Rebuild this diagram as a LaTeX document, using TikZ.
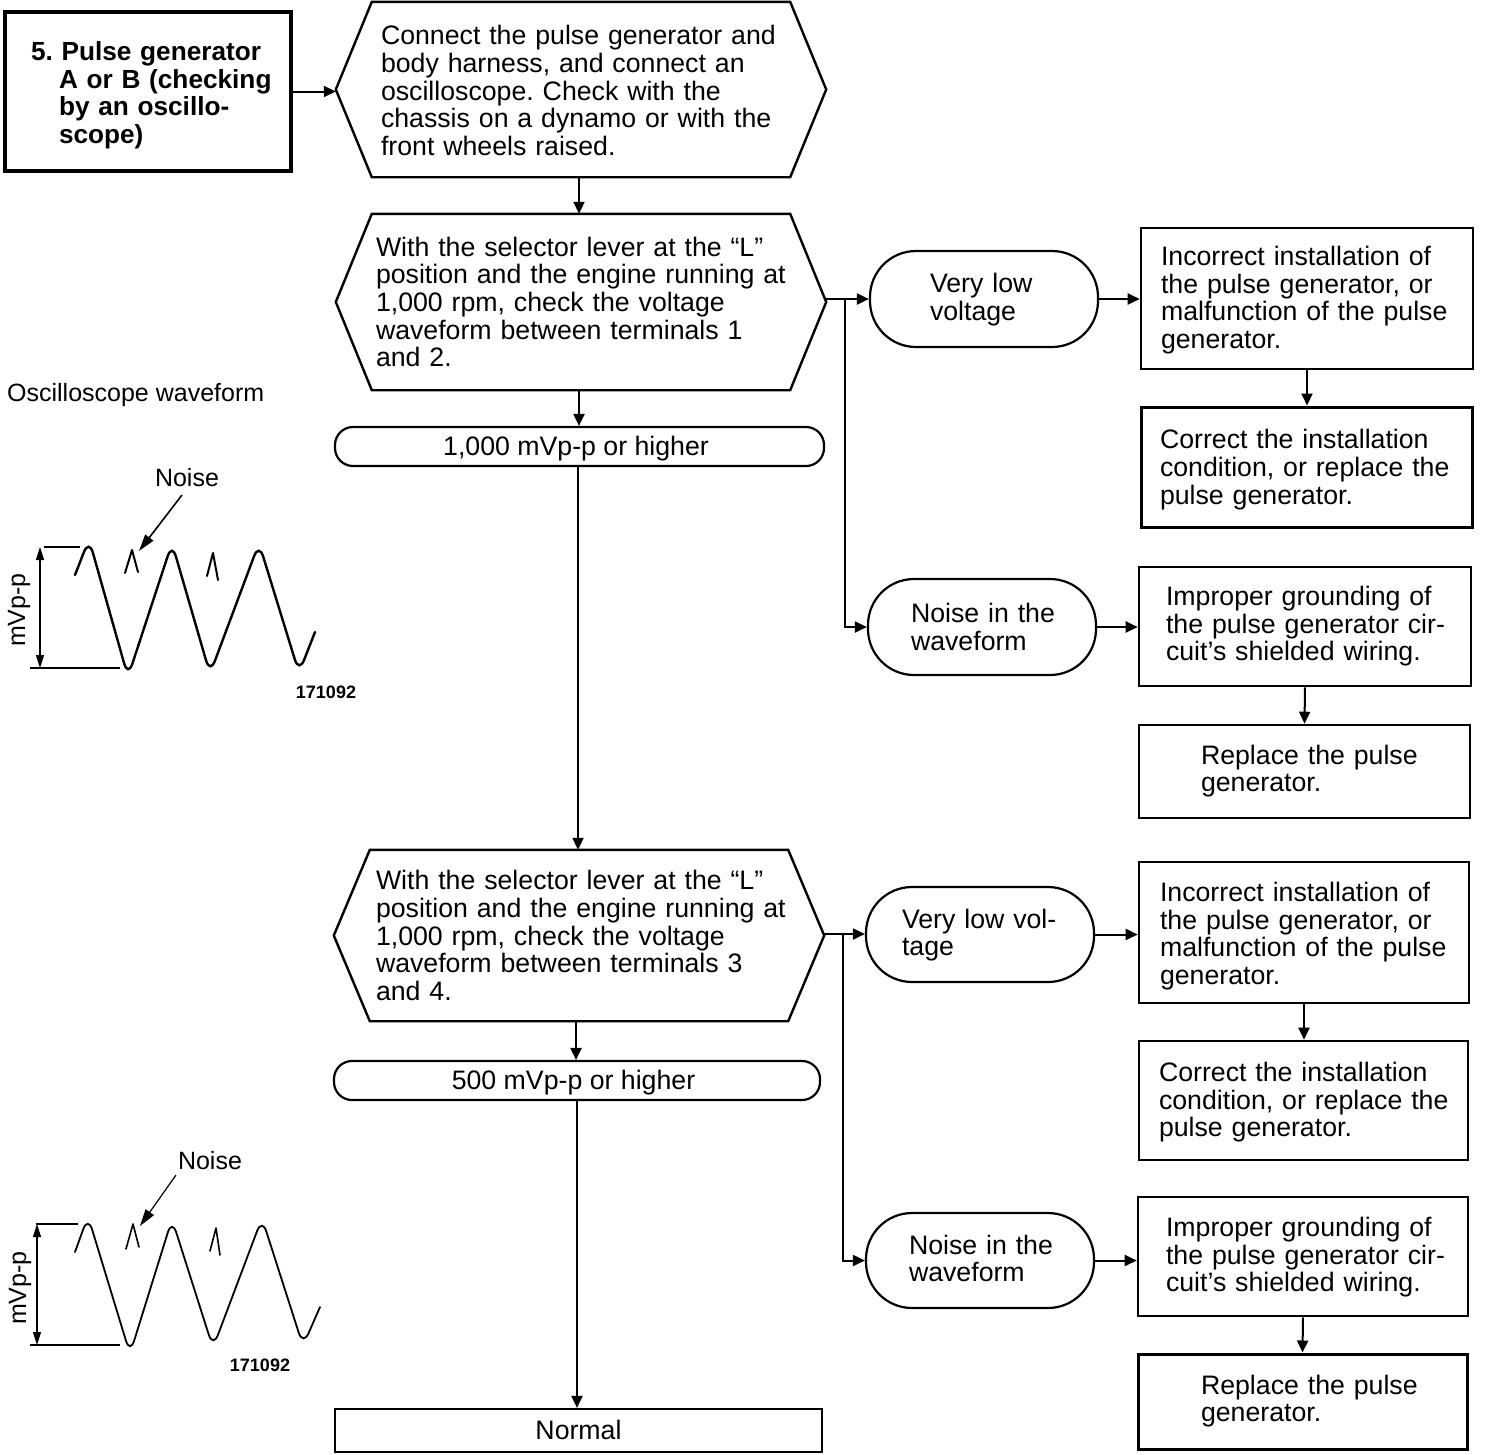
\documentclass[tikz,border=0pt]{standalone}
\usepackage{fontspec}
\setmainfont{Liberation Sans}
\usetikzlibrary{arrows.meta,calc}
\newcommand{\linesbox}[2]{\frenchspacing\makebox[\linewidth][l]{\raisebox{-#2pt}[\height][\depth]{\begin{tabular}{@{}l@{}}#1\end{tabular}}}}
\newcommand{\bxnode}[9]{%
 \node[#1,minimum width=#4-#3,minimum height=#6-#5,text width=2*((#3+#4)/2-#7)] (#2) at ({(#3+#4)/2},{(#5+#6)/2}) {\linesbox{#8}{#9}};}
\newcommand{\hexnode}[9]{%
 \node[hexbody,minimum width=#3-#2,minimum height=#5-#4,text width=2*((#2+#3)/2-#6)] (#1) at ({(#2+#3)/2},{(#4+#5)/2}) {\linesbox{#7}{#9}};
 \draw[hexline] (#1.west) -- ([xshift=#8]#1.north west) -- ([xshift=-#8]#1.north east) -- (#1.east) -- ([xshift=-#8]#1.south east) -- ([xshift=#8]#1.south west) -- cycle;}
\tikzset{
 x=1pt,y=-1pt,
 txt/.style={font=\fontsize{26.7}{27.5}\selectfont,align=left,inner sep=0pt},
 hexbody/.style={txt,rectangle},
 hexline/.style={line width=2.4pt,line join=miter},
 boxn/.style={txt,draw,line width=2.6pt,rectangle},
 boxmid/.style={boxn,line width=3pt},
 boxheavy/.style={boxn,line width=3.8pt},
 pill/.style={txt,draw,line width=2.2pt,rectangle,rounded corners=46pt},
 bar/.style={txt,align=center,draw,line width=2.2pt,rectangle,rounded corners=18pt},
 flatbar/.style={txt,align=center,draw,line width=2.2pt,rectangle},
 conn/.style={line width=2pt,-{Triangle[length=12pt,width=11pt]}},
 plainc/.style={line width=2pt},
 wave/.style={line width=2.4pt,rounded corners=14pt,line cap=round},
 wavethin/.style={line width=1.8pt,rounded corners=14pt,line cap=round},
 noisep/.style={line width=2pt,line cap=round,line join=round},
 dimh/.style={line width=2pt},
 dimv/.style={line width=1.6pt,{Triangle[length=13pt,width=8pt]}-{Triangle[length=13pt,width=8pt]}},
 lab/.style={font=\fontsize{25}{27}\selectfont,inner sep=0pt},
 code/.style={font=\fontsize{18}{20}\bfseries\selectfont,inner sep=0pt},
}
\begin{document}
\begin{tikzpicture}
\useasboundingbox (0,0) rectangle (1488,1454);
\fill[white] (0,0) rectangle (1488,1454);

\bxnode{boxheavy,font=\fontsize{26.2}{27.5}\bfseries\selectfont}{st}{5}{291}{12}{171}{31}{5. Pulse generator\\\hspace*{28pt}A or B (checking\\\hspace*{28pt}by an oscillo-\\\hspace*{28pt}scope)}{5}

\hexnode{hA}{336}{826}{2}{177}{381}{Connect the pulse generator and\\body harness, and connect an\\oscilloscope. Check with the\\chassis on a dynamo or with the\\front wheels raised.}{36}{5}
\hexnode{hB}{336}{826}{214}{390}{376}{With the selector lever at the “L”\\position and the engine running at\\1,000 rpm, check the voltage\\waveform between terminals 1\\and 2.}{36}{4}
\hexnode{hC}{334}{824}{850}{1021}{376}{With the selector lever at the “L”\\position and the engine running at\\1,000 rpm, check the voltage\\waveform between terminals 3\\and 4.}{36}{4}

\node[bar,minimum width=489pt,minimum height=39pt] (rA) at (579.5,446.5) {\hspace*{-7pt}\raisebox{-2pt}[\height][\depth]{1,000 mVp-p or higher}};
\node[bar,minimum width=486pt,minimum height=39pt] (rB) at (577,1080.5) {\hspace*{-7pt}\raisebox{-2pt}[\height][\depth]{500 mVp-p or higher}};
\node[flatbar,minimum width=487pt,minimum height=43pt] (nrm) at (578.5,1430.5) {\raisebox{1pt}[\height][\depth]{Normal}};

\bxnode{pill}{pA}{870}{1098}{251}{347}{930}{Very low\\voltage}{2}
\bxnode{pill}{pB}{868}{1096}{579}{675}{911}{Noise in the\\waveform}{4}
\bxnode{pill}{pC}{866}{1094}{887}{982}{902}{Very low vol-\\tage}{2}
\bxnode{pill}{pD}{866}{1094}{1213}{1308}{909}{Noise in the\\waveform}{2}

\bxnode{boxn}{bA}{1141}{1473}{228}{369}{1161}{Incorrect installation of\\the pulse generator, or\\malfunction of the pulse\\generator.}{3}
\bxnode{boxmid}{bB}{1141}{1472}{407}{527}{1160}{Correct the installation\\condition, or replace the\\pulse generator.}{4}
\bxnode{boxn}{bC}{1139}{1471}{567}{686}{1166}{Improper grounding of\\the pulse generator cir-\\cuit’s shielded wiring.}{1}
\bxnode{boxn}{bD}{1139}{1470}{725}{818}{1201}{Replace the pulse\\generator.}{1}
\bxnode{boxn}{bE}{1139}{1469}{862}{1003}{1160}{Incorrect installation of\\the pulse generator, or\\malfunction of the pulse\\generator.}{5}
\bxnode{boxn}{bF}{1139}{1468}{1041}{1160}{1159}{Correct the installation\\condition, or replace the\\pulse generator.}{3}
\bxnode{boxn}{bG}{1138}{1468}{1197}{1316}{1166}{Improper grounding of\\the pulse generator cir-\\cuit’s shielded wiring.}{2}
\bxnode{boxmid}{bH}{1138}{1467}{1354}{1449}{1201}{Replace the pulse\\generator.}{1}

% connectors
\draw[conn] (st.east) -- (hA.west |- st.east);
\draw[conn] ([xshift=-2pt]hA.south) -- ([xshift=-2pt]hB.north);
\draw[conn] ([xshift=-2pt]hB.south) -- ([xshift=-0.5pt]rA.north);
\draw[conn] ([xshift=-1.5pt]rA.south) -- ([xshift=-1pt]hC.north);
\draw[conn] ([xshift=-3pt]hC.south) -- ([xshift=-1pt]rB.north);
\draw[conn] (rB.south) -- ([xshift=-1.5pt]nrm.north);

\coordinate (jA) at (845,299);
\coordinate (jB) at (843,934);
\draw[plainc] (hB.east |- jA) -- (jA);
\draw[conn] (jA) -- (pA.west |- jA);
\draw[conn] (jA) |- (pB.west);
\draw[plainc] (hC.east |- jB) -- (jB);
\draw[conn] (jB) -- (pC.west |- jB);
\draw[conn] (jB) |- (pD.west);

\draw[conn] (pA.east) -- (bA.west |- pA.east);
\draw[conn] (pB.east) -- (bC.west |- pB.east);
\draw[conn] (pC.east) -- (bE.west |- pC.east);
\draw[conn] (pD.east) -- (bG.west |- pD.east);
\draw[conn] (bA.south) -- ([xshift=0.5pt]bB.north);
\draw[conn] (bC.south) -- (bD.north);
\draw[conn] (bE.south) -- ([xshift=0.5pt]bF.north);
\draw[conn] (bG.south) -- (bH.north);

% waveform 1
\node[anchor=west,inner sep=0pt,font=\fontsize{25}{27}\selectfont] (osc) at (7,395) {Oscilloscope waveform};
\node[lab] (nA) at (187,478) {Noise};
\coordinate (nAe) at (182,495);
\coordinate (nAt) at (139,551);
\draw[line width=1.6pt,-{Triangle[length=17pt,width=10pt]}] (nAe) -- (nAt);
\draw[wave] (75,575) -- (89,539) -- (128,677) -- (172,543) -- (210,674) -- (259,543) -- (299,673) -- (315,632);
\draw[noisep] (125,573) -- (132,550) -- (138,572);
\draw[noisep] (207,576) -- (213,553) -- (218,580);
\coordinate (dAt) at (40,547);
\coordinate (dAb) at (40,668);
\draw[dimh] (44,547) -- (80,547);
\draw[dimh] (30,668) -- (120,668);
\draw[dimv] (dAt) -- (dAb);
\node[lab,rotate=90] (mA) at (19,610) {mVp-p};
\node[code] (cA) at (326,692) {171092};

% waveform 2
\node[lab] (nB) at (210,1161) {Noise};
\coordinate (nBe) at (176,1175);
\coordinate (nBt) at (140,1226);
\draw[line width=1.2pt,-{Triangle[length=17pt,width=10pt]}] (nBe) -- (nBt);
\draw[wavethin] (75,1252) -- (88,1216) -- (130,1354) -- (172,1219) -- (213,1348) -- (262,1218) -- (303,1346) -- (320,1307);
\draw[noisep,line width=1.6pt] (126,1249) -- (133,1224) -- (139,1247);
\draw[noisep,line width=1.6pt] (210,1251) -- (216,1228) -- (220,1255);
\coordinate (dBt) at (37,1224);
\coordinate (dBb) at (37,1345);
\draw[line width=1.2pt] (36,1224) -- (78,1224);
\draw[line width=1.2pt] (30,1345) -- (120,1345);
\draw[dimv,line width=1.2pt] (dBt) -- (dBb);
\node[lab,rotate=90] (mB) at (20,1288) {mVp-p};
\node[code] (cB) at (260,1365) {171092};
\end{tikzpicture}
\end{document}
